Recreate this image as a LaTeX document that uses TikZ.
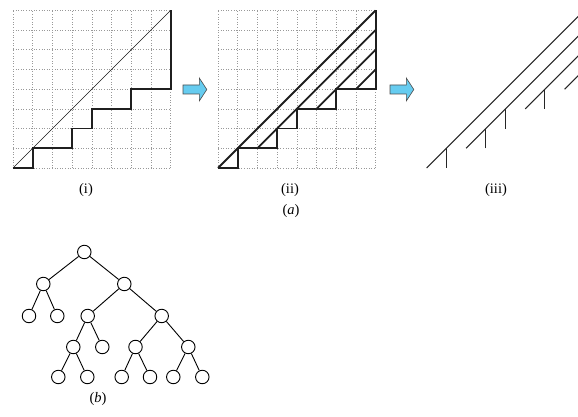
\documentclass[tikz,border=0pt]{standalone}
\usepackage{fontspec}
\setmainfont{Liberation Serif}
\usepackage{tikz}
\usetikzlibrary{positioning,calc}
\definecolor{arrowblue}{RGB}{102,204,240}
\tikzset{
  gridln/.style  = {dotted, line width=0.6pt, black!40},
  stair/.style   = {line width=1.8pt, black!88, line join=miter},
  diagthin/.style= {line width=0.7pt, black!90},
  diagthick/.style = {line width=1.8pt, black!88},
  strand/.style  = {line width=1.1pt, black!85},
  barrow/.style  = {draw=black!70, fill=arrowblue, line width=0.6pt, line join=miter},
  tnode/.style   = {circle, draw, fill=white, inner sep=0pt, minimum size=13.5pt,
                    line width=0.9pt},
  tedge/.style   = {line width=0.9pt},
  lbl/.style     = {font=\fontsize{14.5}{16}\selectfont, inner sep=1pt},
}
\newcommand{\stairpath}{(0,0) -- (1,0) -- (1,1) -- (3,1) -- (3,2) -- (4,2)
  -- (4,3) -- (6,3) -- (6,4) -- (8,4) -- (8,8)}
\newcommand{\bluearrow}[1]{%
  \draw[barrow] (#1) ++(0,4.5) -- ++(16.3,0) -- ++(0,7) -- ++(7.5,-11.5)
    -- ++(-7.5,-11.5) -- ++(0,7) -- ++(-16.3,0) -- cycle;}

\begin{document}
\begin{tikzpicture}[x=1pt,y=1pt]
  \useasboundingbox (0,0) rectangle (578,417);
  % (i): lattice path under the diagonal
  \begin{scope}[shift={(13,249)}, x=19.7pt, y=19.7pt]
    \draw[gridln, step=1] (0,0) grid (8,8);
    \draw[diagthin] (0,0) -- (8,8);
    \draw[stair] \stairpath;
  \end{scope}
  \bluearrow{183,327.5}
  % (ii): diagonals cut at the corners
  \begin{scope}[shift={(218,249)}, x=19.7pt, y=19.7pt]
    \draw[gridln, step=1] (0,0) grid (8,8);
    \draw[stair] \stairpath;
    \draw[diagthick] (0,0) -- (8,8);
    \draw[diagthick] (2,1) -- (8,7);
    \draw[diagthick] (5,3) -- (8,6);
    \draw[diagthick] (7,4) -- (8,5);
  \end{scope}
  \bluearrow{390,327.5}
  % (iii): strands with their ticks
  \begin{scope}[shift={(426.7,249)}, x=19.7pt, y=19.7pt]
    \draw[strand] (0,0) -- (8,8);
    \draw[strand] (1,0) -- (1,1);
    \draw[strand] (2,1) -- (8,7);
    \draw[strand] (3,1) -- (3,2);
    \draw[strand] (4,2) -- (4,3);
    \draw[strand] (5,3) -- (8,6);
    \draw[strand] (6,3) -- (6,4);
    \draw[strand] (7,4) -- (8,5);
  \end{scope}
  \node[lbl] (li)   at (86,227)   {(i)};
  \node[lbl] (lii)  at (290,227)  {(ii)};
  \node[lbl] (liii) at (496,227)  {(iii)};
  \node[lbl] (la)   at (291,206)  {(\textit{a})};
  % (b): binary tree
  \node[tnode] (r)    at (84.3,165) {};
  \node[tnode] (a)    at (43.3,133) {};
  \node[tnode] (b)    at (124.3,133) {};
  \node[tnode] (aa)   at (29,101) {};
  \node[tnode] (ab)   at (57.3,101) {};
  \node[tnode] (ba)   at (87.7,101) {};
  \node[tnode] (bb)   at (161.7,101) {};
  \node[tnode] (baa)  at (73.3,70) {};
  \node[tnode] (bab)  at (102.3,70) {};
  \node[tnode] (bba)  at (135.5,70) {};
  \node[tnode] (bbb)  at (188.3,70) {};
  \node[tnode] (baaa) at (58.3,40) {};
  \node[tnode] (baab) at (87.3,40) {};
  \node[tnode] (bbaa) at (121.7,40) {};
  \node[tnode] (bbab) at (150,40) {};
  \node[tnode] (bbba) at (173.3,40) {};
  \node[tnode] (bbbb) at (202.3,40) {};
  \draw[tedge] (r)--(a) (r)--(b) (a)--(aa) (a)--(ab) (b)--(ba) (b)--(bb);
  \draw[tedge] (ba)--(baa) (ba)--(bab) (bb)--(bba) (bb)--(bbb);
  \draw[tedge] (baa)--(baaa) (baa)--(baab) (bba)--(bbaa) (bba)--(bbab)
    (bbb)--(bbba) (bbb)--(bbbb);
  \node[lbl] (lb) at (98,18) {(\textit{b})};
\end{tikzpicture}
\end{document}
